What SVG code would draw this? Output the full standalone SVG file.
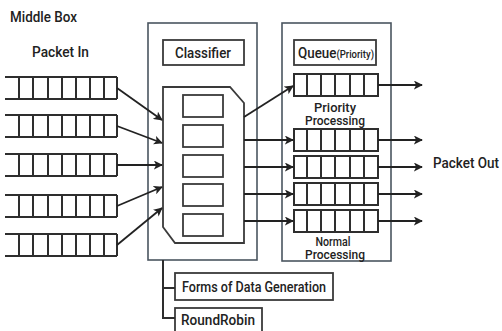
<svg xmlns="http://www.w3.org/2000/svg" xmlns:xlink="http://www.w3.org/1999/xlink" width="502" height="331" viewBox="0 0 502 331">
<style>
.ln{fill:none;stroke:#2e2e2e;stroke-width:2}
.bx{fill:#fff;stroke:#3a3a3a;stroke-width:1.8}
.ob{fill:none;stroke:#4a5560;stroke-width:1.6}
.ar{fill:none;stroke:#222;stroke-width:1.8;marker-end:url(#ah)}
text{font-family:Roboto,"DejaVu Sans Condensed","Liberation Sans",sans-serif;font-weight:500;fill:#222}
.t{font-size:14px}
.s{font-size:12px}
</style>
<defs>
<marker id="ah" viewBox="0 0 10 10" refX="9" refY="5" markerWidth="5" markerHeight="5" markerUnits="strokeWidth" orient="auto">
<path d="M0,0 L10,5 L0,10 L2.5,5 Z" fill="#222"/>
</marker>
<path id="lq" class="ln" d="M0,0 H112 M0,22 H112 M14,0 V22 M28,0 V22 M43,0 V22 M57,0 V22 M71,0 V22 M85,0 V22 M99,0 V22 M112,0 V22"/>
<path id="rq" class="ln" d="M0,0 H84 V22 H0 Z M13,0 V22 M27,0 V22 M41,0 V22 M56,0 V22 M70,0 V22"/>
</defs>

<g id="labels">
<text class="t" x="10" y="22" textLength="67" lengthAdjust="spacingAndGlyphs">Middle Box</text>
<text class="t" x="32" y="57" textLength="57" lengthAdjust="spacingAndGlyphs">Packet In</text>
<text class="t" x="433" y="168" textLength="66" lengthAdjust="spacingAndGlyphs">Packet Out</text>
</g>

<g id="in-queue-1"><use xlink:href="#lq" transform="translate(5,77)"/></g>
<g id="in-queue-2"><use xlink:href="#lq" transform="translate(5,115)"/></g>
<g id="in-queue-3"><use xlink:href="#lq" transform="translate(5,154)"/></g>
<g id="in-queue-4"><use xlink:href="#lq" transform="translate(5,195)"/></g>
<g id="in-queue-5"><use xlink:href="#lq" transform="translate(5,234)"/></g>

<g id="classifier-box">
<rect class="ob" x="148" y="23" width="109" height="237"/>
<rect class="bx" x="163" y="40" width="81" height="25"/>
<text class="t" x="175" y="58" textLength="56" lengthAdjust="spacingAndGlyphs">Classifier</text>
</g>

<g id="classifier">
<path class="bx" d="M163,87 H230 L244,103 V243 H175 L163,227 Z"/>
<rect class="bx" x="183" y="95" width="40" height="22"/>
<rect class="bx" x="183" y="125" width="40" height="22"/>
<rect class="bx" x="183" y="155" width="40" height="22"/>
<rect class="bx" x="183" y="184" width="40" height="22"/>
<rect class="bx" x="183" y="214" width="40" height="22"/>
</g>

<g id="queue-box">
<rect class="ob" x="282" y="23" width="109" height="238"/>
<rect class="bx" x="294" y="40" width="82" height="25"/>
<text x="298" y="58" textLength="76" lengthAdjust="spacingAndGlyphs"><tspan class="t">Queue</tspan><tspan style="font-size:10px">(Priority)</tspan></text>
</g>

<g id="out-queue-1"><use xlink:href="#rq" transform="translate(294,74)"/></g>
<g id="priority-label">
<text class="s" x="335" y="112" text-anchor="middle" textLength="42" lengthAdjust="spacingAndGlyphs">Priority</text>
<text class="s" x="335" y="125" text-anchor="middle" textLength="60" lengthAdjust="spacingAndGlyphs">Processing</text>
</g>
<g id="out-queue-2"><use xlink:href="#rq" transform="translate(294,129)"/></g>
<g id="out-queue-3"><use xlink:href="#rq" transform="translate(294,156)"/></g>
<g id="out-queue-4"><use xlink:href="#rq" transform="translate(294,183)"/></g>
<g id="out-queue-5"><use xlink:href="#rq" transform="translate(294,210)"/></g>
<g id="normal-label">
<text class="s" x="333" y="246" text-anchor="middle" textLength="35" lengthAdjust="spacingAndGlyphs">Normal</text>
<text class="s" x="335" y="259" text-anchor="middle" textLength="60" lengthAdjust="spacingAndGlyphs">Processing</text>
</g>

<g id="forms">
<rect class="bx" x="175" y="273" width="158" height="27"/>
<text class="t" x="182" y="292" textLength="144" lengthAdjust="spacingAndGlyphs">Forms of Data Generation</text>
</g>
<g id="roundrobin">
<rect class="bx" x="175" y="308" width="87" height="27"/>
<text class="t" x="181" y="325" textLength="74" lengthAdjust="spacingAndGlyphs">RoundRobin</text>
</g>

<g id="connectors">
<path class="ar" d="M117,88 L162,120"/>
<path class="ar" d="M117,126 L162,143"/>
<path class="ar" d="M117,165 L162,165"/>
<path class="ar" d="M117,206 L162,187"/>
<path class="ar" d="M117,245 L162,208"/>
<path class="ar" d="M244,117 L293,86"/>
<path class="ar" d="M244,140 L293,140"/>
<path class="ar" d="M244,167 L293,167"/>
<path class="ar" d="M244,194 L293,194"/>
<path class="ar" d="M244,221 L293,221"/>
<path class="ar" d="M378,85 L422,85"/>
<path class="ar" d="M378,140 L422,140"/>
<path class="ar" d="M378,167 L422,167"/>
<path class="ar" d="M378,194 L422,194"/>
<path class="ar" d="M378,221 L422,221"/>
<path class="ln" d="M163,260 V318 H175 M163,288 H175"/>
</g>
</svg>
